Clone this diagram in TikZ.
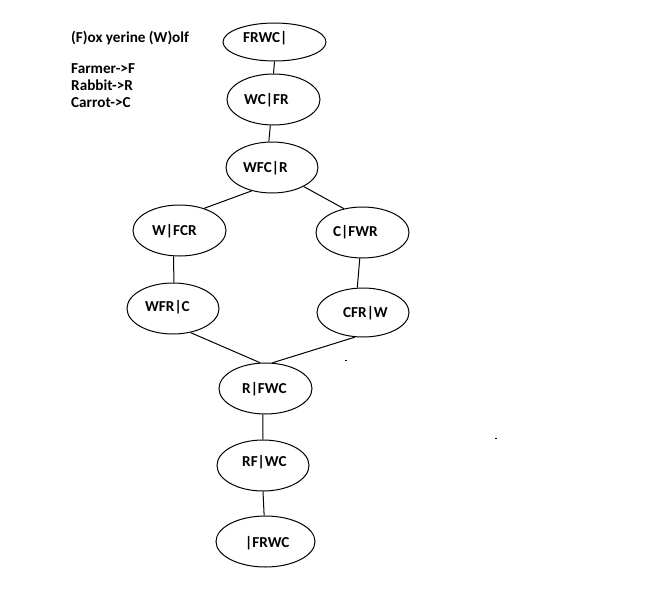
\documentclass[tikz,border=0pt]{standalone}
\usepackage{fontspec}
\setmainfont{Carlito}
\usetikzlibrary{shapes.geometric}
\begin{document}
\begin{tikzpicture}[x=1pt,y=-1pt,
  st/.style 2 args={draw, ellipse, line width=1pt, inner sep=0pt, minimum width=#1pt, minimum height=#2pt},
  lbl/.style={anchor=base west, inner sep=0pt, font=\bfseries\fontsize{15.2}{18}\selectfont},
  conn/.style={line width=1pt}]
\fill[white] (0,0) rectangle (657,611);
\useasboundingbox (0,0) rectangle (657,611);
% legend
\node[lbl] (title) at (71,42) {(F)ox yerine (W)olf};
\node[lbl] (l1) at (71,73) {Farmer->F};
\node[lbl] (l2) at (71,90) {Rabbit->R};
\node[lbl] (l3) at (71,107.5) {Carrot->C};
% states
\node[st={103}{38}] (a) at (274.5,42) {};
\node[st={93}{51}] (b) at (273.5,99.5) {};
\node[st={92}{51}] (c) at (272,167.5) {};
\node[st={93}{51}] (d) at (179.5,230.5) {};
\node[st={93}{51}] (e) at (362.5,232.5) {};
\node[st={92}{51}] (f) at (173,308.5) {};
\node[st={92}{49}] (g) at (363,312.5) {};
\node[st={93}{51}] (h) at (265.5,388.5) {};
\node[st={92}{51}] (i) at (263,465.5) {};
\node[st={99}{51}] (j) at (265.5,541.5) {};
% labels
\node[lbl] (ta) at (243,42.5) {FRWC|};
\node[lbl] (tb) at (244,104.5) {WC|FR};
\node[lbl] (tc) at (243,172.5) {WFC|R};
\node[lbl] (td) at (152,235.5) {W|FCR};
\node[lbl] (te) at (333,236.5) {C|FWR};
\node[lbl] (tf) at (145,311.5) {WFR|C};
\node[lbl] (tg) at (343,317.5) {CFR|W};
\node[lbl] (th) at (242,393.5) {R|FWC};
\node[lbl] (ti) at (242,466.5) {RF|WC};
\node[lbl] (tj) at (245,547.5) {|FRWC};
% connectors
\draw[conn] (a.south) -- (b.north);
\draw[conn] (b.-97) -- (c.97);
\draw[conn] (c.-131) -- (d.42);
\draw[conn] (c.-31) -- (e.128);
\draw[conn] (d.-103) -- (f.88);
\draw[conn] (e.-96) -- (g.103);
\draw[conn] (f.-54) -- (h.102);
\draw[conn] (g.-108) -- (h.75);
\draw[conn] (h.-96) -- (i.north);
\draw[conn] (i.south) -- (j.93);
% stray dots
\fill[black] (345,359.5) rectangle (347,360.5);
\fill[black] (495,437.5) rectangle (497,438.5);
\end{tikzpicture}
\end{document}
